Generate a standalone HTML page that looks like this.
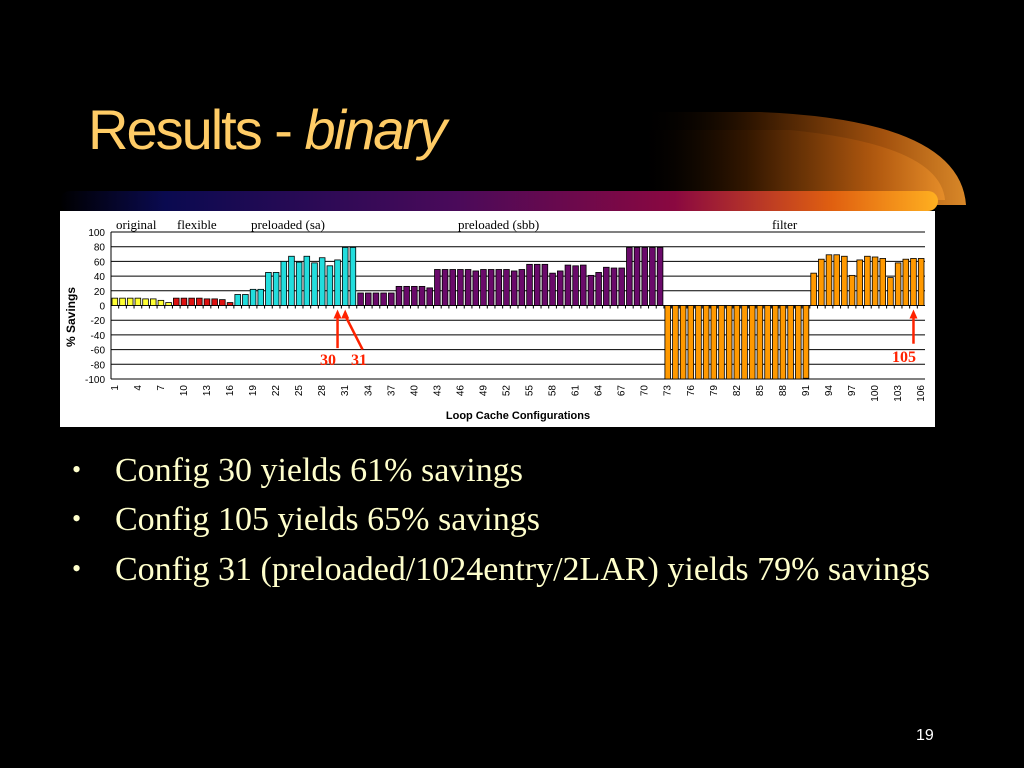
<!DOCTYPE html>
<html><head><meta charset="utf-8">
<style>
body{margin:0;background:#000;width:1024px;height:768px;overflow:hidden;position:relative;font-family:"Liberation Sans",sans-serif}
.abs{position:absolute}
#title{left:88px;top:97px;font-family:"Liberation Sans Narrow","Liberation Sans",sans-serif;font-size:56px;color:#FFCC66;letter-spacing:-2px;white-space:nowrap}
.bul{left:72px;font-family:"Liberation Serif",serif;font-size:34px;color:#FFFFCC;white-space:nowrap}
.bul span{display:inline-block;width:43px;font-size:26px;vertical-align:3px}
</style></head><body>
<svg class="abs" style="left:0;top:0" width="1024" height="768">
<defs>
<linearGradient id="sw" x1="0" x2="1"><stop offset="0" stop-color="#000" stop-opacity="0"/><stop offset="0.35" stop-color="#3a1a00"/><stop offset="0.75" stop-color="#c06010"/><stop offset="1" stop-color="#ffa030"/></linearGradient>
<linearGradient id="band" x1="0" x2="1"><stop offset="0" stop-color="#000"/><stop offset="0.12" stop-color="#0a0a50"/><stop offset="0.45" stop-color="#4a0a5a"/><stop offset="0.7" stop-color="#8a0840"/><stop offset="0.88" stop-color="#e06010"/><stop offset="1" stop-color="#ffb020"/></linearGradient>
</defs>
<path d="M640,112 L760,112 Q960,120 966,205 L640,205 Z" fill="url(#sw)" opacity="0.85"/>
<path d="M640,130 L790,130 Q940,145 945,200 L640,200 Z" fill="url(#sw)" opacity="0.5"/>
<rect x="60" y="191" width="878" height="20" rx="10" fill="url(#band)"/>
</svg>
<div id="title" class="abs">Results - <i>binary</i></div>
<svg class="abs" style="left:60px;top:211px" width="875" height="216" id="chart">
<rect width="875" height="216" fill="#fff"/>
</svg>
<div class="abs bul" style="top:452px"><span>•</span>Config 30 yields 61% savings</div>
<div class="abs bul" style="top:501px"><span>•</span>Config 105 yields 65% savings</div>
<div class="abs bul" style="top:551px"><span>•</span>Config 31 (preloaded/1024entry/2LAR) yields 79% savings</div>
<div class="abs" style="left:916px;top:727px;color:#fff;font-size:16px">19</div>
<script>
const valsOrig=[10,10,10,10,9,9,7,4];
const valsFlex=[10,10,10,10,9,9,8,4];
const valsSA=[15,15,22,22,45,45,60,67,59,67,58,65,54,62,79,79];
const valsSBB=[17,17,17,17,17,26,26,26,26,24,49,49,49,49,49,47,49,49,49,49,47,49,56,56,56,44,47,55,54,55,41,45,52,51,51,79,79,79,79,79];
const valsFilterNeg=[-100,-100,-100,-100,-100,-100,-100,-100,-100,-100,-100,-100,-100,-100,-100,-100,-100,-100,-99];
const valsFilter=[44,63,69,69,67,41,62,67,66,64,38,58,63,64,64];
const yTicks=[100,80,60,40,20,0,-20,-40,-60,-80,-100];
const groups=[[valsOrig,'#ffff33'],[valsFlex,'#dd1111'],[valsSA,'#22dddd'],[valsSBB,'#6a0a6a'],[valsFilterNeg,'#ff9900'],[valsFilter,'#ff9900']];
const svg=document.getElementById('chart');const NS='http://www.w3.org/2000/svg';
const X0=51,X1=865,Y0=21,Y1=168;
const all=[];groups.forEach(g=>g[0].forEach(v=>all.push([v,g[1]])));
const N=all.length,cw=(X1-X0)/N;
const y=v=>Y0+(100-v)/200*(Y1-Y0);
const x=i=>X0+i*cw;
function el(t,a,txt){const e=document.createElementNS(NS,t);for(const k in a)e.setAttribute(k,a[k]);if(txt!=null)e.textContent=txt;svg.appendChild(e);return e;}
yTicks.forEach(t=>{
 const g=el('line',{x1:X0,x2:X1,y1:y(t),y2:y(t),stroke:'#000','stroke-width':1});
 
 
 const l=el('text',{x:X0-6,y:y(t)+4,'text-anchor':'end','font-size':10,'font-family':'Liberation Sans'},t);
 
 
});
el('line',{x1:X0,x2:X0,y1:Y0,y2:Y1,stroke:'#000'});
all.forEach((d,i)=>{
 const v=d[0];const top=Math.min(y(v),y(0)),h=Math.abs(y(v)-y(0));
 const r=el('rect',{x:x(i)+1,y:top,width:cw-2,height:h,fill:d[1],stroke:'#000','stroke-width':0.8});
 
 
 el('line',{x1:x(i),x2:x(i),y1:y(0),y2:y(0)+3,stroke:'#000'});
 if(i%3===0){const tx=x(i)+cw/2+3,ty=Y1+6;
  const t=el('text',{x:tx,y:ty,'font-size':10,'text-anchor':'end','font-family':'Liberation Sans',transform:`rotate(-90 ${tx} ${ty})`},i+1);
  
  }
});
const yt=el('text',{x:15,y:106,'font-size':12,'font-weight':'bold','text-anchor':'middle',transform:'rotate(-90 15 106)'},'% Savings');


const xt=el('text',{x:458,y:208,'font-size':11,'font-weight':'bold','text-anchor':'middle'},'Loop Cache Configurations');


[['original',56],['flexible',117],['preloaded (sa)',191],['preloaded (sbb)',398],['filter',712]].forEach(a=>{
 const t=el('text',{x:a[1],y:18,'font-size':13,'font-family':'Liberation Serif'},a[0]);
 
 
});
function arrow(i,tx,ty){const bx=x(i-1)+cw/2,by=y(0)+4;
 const a=el('line',{x1:tx,y1:ty,x2:bx,y2:by+6,stroke:'#ff2200','stroke-width':2.5});
 
 
 el('polygon',{points:`${bx},${by} ${bx-4},${by+9} ${bx+4},${by+9}`,fill:'#ff2200'});}
arrow(30,x(29)+cw/2,y(-58));arrow(31,x(32)+cw/2+2,y(-60));arrow(105,x(104)+cw/2,y(-52));
[['30',260],['31',291],['105',832]].forEach(a=>{
 const t=el('text',{x:a[1],y:a[0]==='105'?151:154,'font-size':16,'font-weight':'bold','fill':'#ff2200','font-family':'Liberation Serif'},a[0]);
 
 
});
</script>
</body></html>
